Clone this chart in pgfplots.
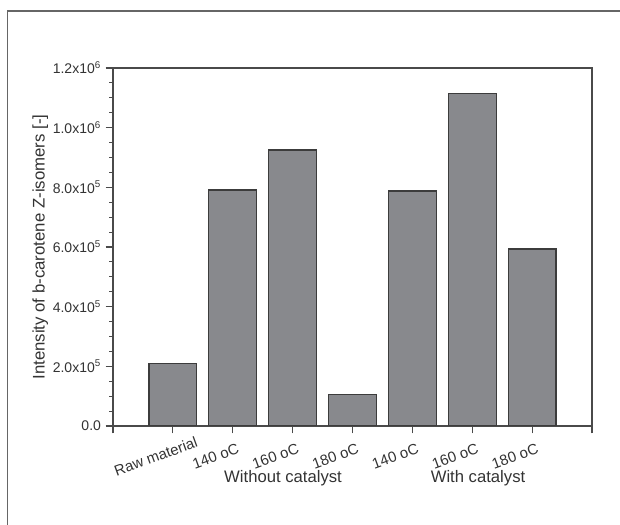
\documentclass[border=0pt]{standalone}
\usepackage{fontspec}
\setmainfont{Liberation Sans}
\usepackage{pgfplots}
\pgfplotsset{compat=1.18}
\definecolor{barfill}{HTML}{88898D}
\definecolor{baredge}{HTML}{3C3C3C}
\definecolor{axcol}{HTML}{4A4A4A}
\definecolor{txt}{HTML}{333333}
\begin{document}
\begin{tikzpicture}
\useasboundingbox (0,0) rectangle (465pt,393pt);
\draw[black!60, line width=0.9pt] (5.6pt,-5pt) -- (5.6pt,384.75pt) -- (470pt,384.75pt);
\begin{axis}[
  at={(84.75pt,73.5pt)}, anchor=south west,
  scale only axis, width=359.25pt, height=268.5pt,
  xmin=0, xmax=8, ymin=0, ymax=1200000,
  xtick={0,1,2,3,4,5,6,7,8},
  xticklabels={{},Raw material,140 oC,160 oC,180 oC,140 oC,160 oC,180 oC,{}},
  ytick={0,200000,400000,600000,800000,1000000,1200000},
  yticklabels={0.0,2.0x10\textsuperscript{5},4.0x10\textsuperscript{5},6.0x10\textsuperscript{5},8.0x10\textsuperscript{5},1.0x10\textsuperscript{6},1.2x10\textsuperscript{6}},
  scaled y ticks=false,
  minor y tick num=3,
  tick align=outside, xtick pos=bottom, ytick pos=left,
  major tick length=5.5pt, minor tick length=3pt,
  axis line style={axcol, line width=0.9pt},
  every tick/.style={axcol, line width=0.8pt},
  yticklabel style={font=\fontsize{10.5}{12}\selectfont, text=txt},
  xticklabel style={font=\fontsize{11.2}{13}\selectfont, text=txt, rotate=20, anchor=center, xshift=-18pt, yshift=-12pt},
  ylabel={Intensity of b-carotene Z-isomers [-]},
  ylabel style={font=\fontsize{12.6}{14}\selectfont, text=txt, at={(axis description cs:-0.152,0.5)}, anchor=center},
  ybar, bar width=0.8,
]
\addplot[fill=barfill, draw=baredge, line width=0.9pt] coordinates {(1,210000) (2,791000) (3,925000) (4,106000) (5,788000) (6,1115000) (7,593000)};
\end{axis}
\node[text=txt, font=\fontsize{12.5}{14}\selectfont] at (212.25pt,34.5pt) {Without catalyst};
\node[text=txt, font=\fontsize{12.5}{14}\selectfont] at (358.5pt,34.5pt) {With catalyst};
\end{tikzpicture}
\end{document}
